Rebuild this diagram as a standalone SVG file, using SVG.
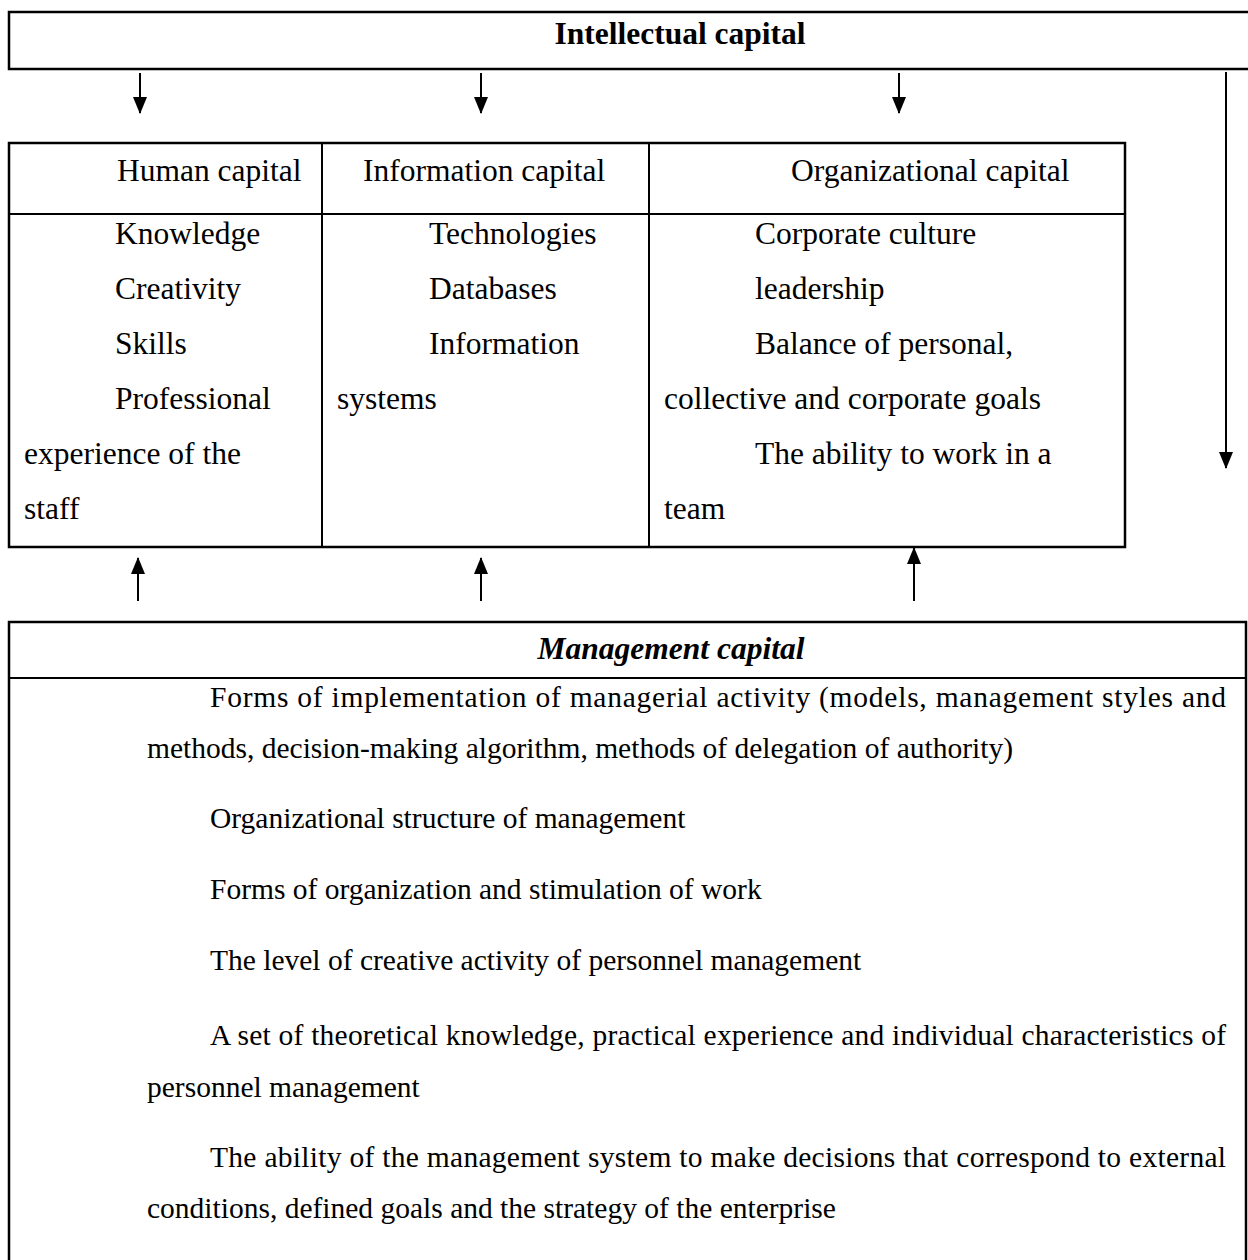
<svg xmlns="http://www.w3.org/2000/svg" width="1248" height="1260" viewBox="0 0 1248 1260">
<style>
.box{fill:none;stroke:#000;stroke-width:2.5}
.ln{stroke:#000;stroke-width:2}
.t{font-family:"Liberation Serif","Times New Roman",serif;font-size:31.5px;fill:#000}
.b{font-family:"Liberation Serif","Times New Roman",serif;font-size:29.5px;fill:#000}
.h{font-family:"Liberation Serif","Times New Roman",serif;font-size:31.5px;font-weight:bold;fill:#000;text-anchor:middle}
.arr{stroke:#000;stroke-width:2;fill:none}
</style>
<defs>
<marker id="ah" viewBox="0 0 17 14" refX="16" refY="7" markerWidth="17" markerHeight="14" markerUnits="userSpaceOnUse" orient="auto">
<path d="M0,0 L17,7 L0,14 Z" fill="#000"/>
</marker>
</defs>
<rect width="1248" height="1260" fill="#fff"/>
<g id="intellectual">
<rect class="box" x="9" y="12" width="1250" height="57"/>
<text class="h" x="680" y="44">Intellectual capital</text>
</g>
<g id="table">
<rect class="box" x="9" y="143" width="1116" height="404"/>
<line class="ln" x1="9" y1="214" x2="1125" y2="214"/>
<line class="ln" x1="322" y1="143" x2="322" y2="547"/>
<line class="ln" x1="649" y1="143" x2="649" y2="547"/>
</g>
<g id="human">
<text class="t" x="117" y="181">Human capital</text>
<text class="t" x="115" y="244">Knowledge</text>
<text class="t" x="115" y="299">Creativity</text>
<text class="t" x="115" y="354">Skills</text>
<text class="t" x="115" y="409">Professional</text>
<text class="t" x="24" y="464">experience of the</text>
<text class="t" x="24" y="519">staff</text>
</g>
<g id="information">
<text class="t" x="363" y="181">Information capital</text>
<text class="t" x="429" y="244">Technologies</text>
<text class="t" x="429" y="299">Databases</text>
<text class="t" x="429" y="354">Information</text>
<text class="t" x="337" y="409">systems</text>
</g>
<g id="organizational">
<text class="t" x="791" y="181">Organizational capital</text>
<text class="t" x="755" y="244">Corporate culture</text>
<text class="t" x="755" y="299">leadership</text>
<text class="t" x="755" y="354">Balance of personal,</text>
<text class="t" x="664" y="409">collective and corporate goals</text>
<text class="t" x="755" y="464">The ability to work in a</text>
<text class="t" x="664" y="519">team</text>
</g>
<g id="management">
<rect class="box" x="9" y="622" width="1237" height="660"/>
<line class="ln" x1="9" y1="678" x2="1246" y2="678"/>
<text class="h" x="671" y="659" font-style="italic">Management capital</text>
<text class="b" x="210" y="707" textLength="1016" lengthAdjust="spacing">Forms of implementation of managerial activity (models, management styles and</text>
<text class="b" x="147" y="758">methods, decision-making algorithm, methods of delegation of authority)</text>
<text class="b" x="210" y="828">Organizational structure of management</text>
<text class="b" x="210" y="899">Forms of organization and stimulation of work</text>
<text class="b" x="210" y="970">The level of creative activity of personnel management</text>
<text class="b" x="210" y="1045" textLength="1016" lengthAdjust="spacing">A set of theoretical knowledge, practical experience and individual characteristics of</text>
<text class="b" x="147" y="1097">personnel management</text>
<text class="b" x="210" y="1167" textLength="1016" lengthAdjust="spacing">The ability of the management system to make decisions that correspond to external</text>
<text class="b" x="147" y="1218">conditions, defined goals and the strategy of the enterprise</text>
</g>
<g id="connectors">
<line class="arr" x1="140" y1="73" x2="140" y2="113" marker-end="url(#ah)"/>
<line class="arr" x1="481" y1="73" x2="481" y2="113" marker-end="url(#ah)"/>
<line class="arr" x1="899" y1="73" x2="899" y2="113" marker-end="url(#ah)"/>
<line class="arr" x1="1226" y1="72" x2="1226" y2="468" marker-end="url(#ah)"/>
<line class="arr" x1="138" y1="601" x2="138" y2="558" marker-end="url(#ah)"/>
<line class="arr" x1="481" y1="601" x2="481" y2="558" marker-end="url(#ah)"/>
<line class="arr" x1="914" y1="601" x2="914" y2="548" marker-end="url(#ah)"/>
</g>
</svg>
